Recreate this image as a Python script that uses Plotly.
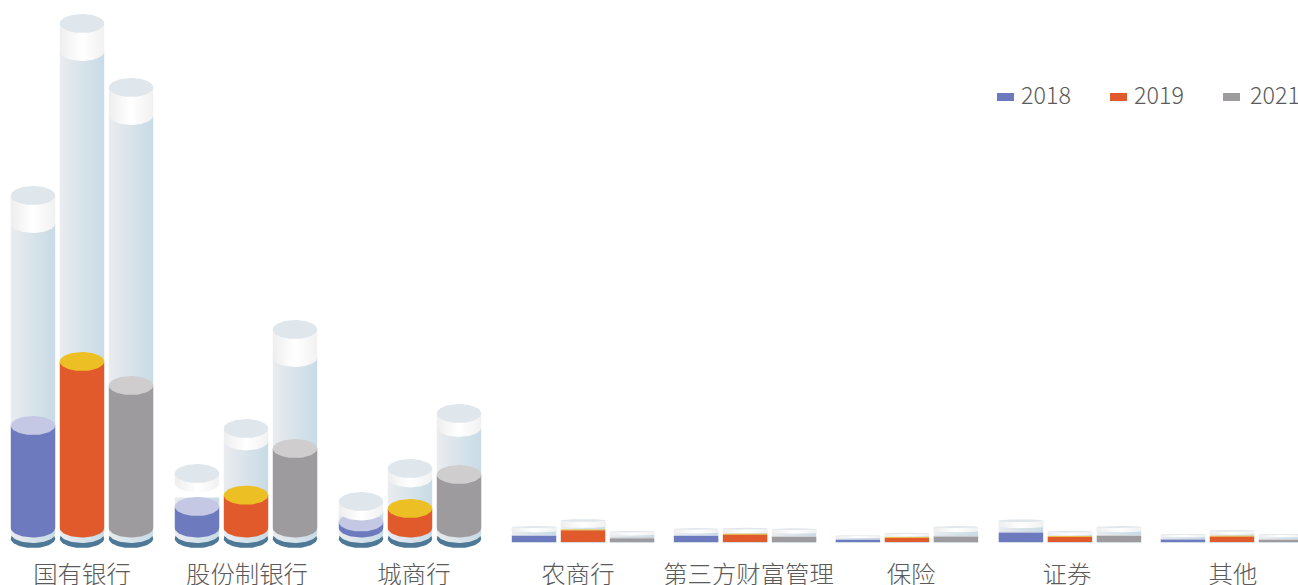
import numpy as np
import plotly.graph_objects as go

categories = ["国有银行", "股份制银行", "城商行", "农商行", "第三方财富管理", "保险", "证券", "其他"]
years = ["2018", "2019", "2021"]

# Filled level of each cylinder
level_2018 = [127, 46, 30.5, 8, 7.7, 4, 11.3, 4.3]
level_2019 = [191, 57.3, 44, 13.5, 9.3, 6, 7, 7.3]
level_2021 = [167, 104, 78, 5.5, 6.7, 7.3, 7.7, 3.7]

# Full height of each glass cylinder
total_2018 = [357, 79, 51, 17, 15, 7.7, 23.7, 9]
total_2019 = [529, 124, 84, 24, 15.3, 10.3, 12, 13]
total_2021 = [465, 223, 139, 12, 14.7, 17, 17, 9]

levels = [level_2018, level_2019, level_2021]
totals = [total_2018, total_2019, total_2021]

# Layout constants (x axis units are category steps)
W, H = 1298, 585
PLOT_BOTTOM = 548
GROUND = 543
UNIT = 164.0
group_pos = [0, 1, 2, 3.055, 4.043, 5.03, 6.024, 7.012]
label_pos = [0, 1.006, 2.024, 3.024, 4.064, 5.055, 6.006, 7.018]
OFFSET = 49 / UNIT
RX = 22.2 / UNIT
RY = 9.5
FLAT_BELOW = 30

BODY_COL = ["#c5c8e5", "#ecc024", "#cfcdce"]
SIDE_COL = ["#6d7abd", "#e05a2b", "#9d9b9e"]
TOP_GLASS = "#dfe6ec"
DARK = "#4d7896"
GLASS = [[0, "#eaecef"], [0.5, "#d8e3ea"], [1, "#c8dbe6"]]
CAP = [[0, "#eeeeee"], [0.5, "#ffffff"], [1, "#f1f1f1"]]
TEXT = "#5a5a5a"
FONT = "Noto Sans CJK SC"

fig = go.Figure()


def xpx(px):
    return (px - 82) / UNIT


def ypx(px):
    return GROUND - px


def add_poly(xs, ys, color=None, grad=None, x0=None, x1=None):
    kw = dict(x=xs, y=ys, mode="lines", line=dict(width=0), fill="toself",
              hoverinfo="skip", showlegend=False, cliponaxis=False)
    if grad:
        kw["fillgradient"] = dict(type="horizontal", colorscale=grad, start=x0, stop=x1)
    else:
        kw["fillcolor"] = color
    fig.add_trace(go.Scatter(**kw))


def ellipse(cx, cy, ry, color=None, grad=None):
    t = np.linspace(0, 2 * np.pi, 73)
    add_poly(cx + RX * np.cos(t), cy + ry * np.sin(t), color, grad, cx - RX, cx + RX)


def column(cx, y_top, y_bottom, ry, color=None, grad=None):
    """Flat-topped side wall whose bottom edge is the front half of an ellipse."""
    t = np.linspace(np.pi, 2 * np.pi, 37)
    xs = np.concatenate([[cx - RX, cx + RX], cx + RX * np.cos(t)[::-1]])
    ys = np.concatenate([[y_top, y_top], (y_bottom + ry * np.sin(t))[::-1]])
    xs = np.append(xs, cx - RX)
    ys = np.append(ys, y_top)
    add_poly(xs, ys, color, grad, cx - RX, cx + RX)


for g in range(len(categories)):
    for s in range(len(years)):
        cx = group_pos[g] + (s - 1) * OFFSET
        total = totals[s][g]
        level = levels[s][g]
        flat = total < FLAT_BELOW
        if flat:
            ry_top = 0.06 * total
            cap_depth = 0.25 * total
            column(cx, 1.2, 0.3, 0, color="#bccfdb")
            column(cx, total - ry_top, 0.8, 0, grad=GLASS)
            column(cx, level - 0.8, 1.1, 0, color=SIDE_COL[s])
            column(cx, level, level - 0.8, 0, color=BODY_COL[s])
        else:
            ry_top = RY
            cap_depth = 28 if total > 200 else max(RY, 0.1 * total)
            top_c = total - RY
            cap_c = top_c - cap_depth
            # gap under the cap of the lowest tall cylinder in the second group
            body_top = cap_c - 14.5 if (g == 1 and s == 0) else cap_c
            ellipse(cx, 4.5, RY, DARK)
            column(cx, body_top, 9.5, RY, grad=GLASS)
            fill_c = level - RY
            column(cx, fill_c, 15, RY, color=SIDE_COL[s])
            ellipse(cx, fill_c, RY, color=BODY_COL[s])
        top_c = total - ry_top
        cap_c = top_c - cap_depth
        column(cx, top_c, cap_c, ry_top, grad=CAP)
        ellipse(cx, top_c, ry_top, color=TOP_GLASS)

# Legend
legend_swatch = [997, 1110, 1223]
legend_text = [1020, 1133, 1249]
for s, year in enumerate(years):
    fig.add_shape(type="rect", xref="x", yref="y", line_width=0, fillcolor=SIDE_COL[s],
                  x0=xpx(legend_swatch[s]), x1=xpx(legend_swatch[s] + 17),
                  y0=ypx(101), y1=ypx(93))
    fig.add_annotation(x=xpx(legend_text[s]), y=ypx(93.5), xref="x", yref="y", text=year,
                       showarrow=False, xanchor="left", yanchor="middle", xshift=-1,
                       font=dict(family=FONT, size=23.3, color=TEXT, weight=300))

fig.update_layout(
    width=W, height=H, margin=dict(l=0, r=0, t=0, b=H - PLOT_BOTTOM, autoexpand=False),
    paper_bgcolor="white", plot_bgcolor="white", showlegend=False,
    xaxis=dict(range=[xpx(0), xpx(W)], tickmode="array", tickvals=label_pos, ticktext=categories,
               showgrid=False, zeroline=False, showline=False, ticks="outside", ticklen=5,
               tickcolor="rgba(0,0,0,0)", tickangle=0, automargin=False,
               tickfont=dict(family=FONT, size=24.4, color=TEXT, weight=300)),
    yaxis=dict(range=[ypx(PLOT_BOTTOM), ypx(0)], visible=False, automargin=False),
)

fig.write_html("out.html", config=dict(displayModeBar=False),
               post_script="document.body.style.margin='0';document.body.style.overflow='hidden';")
